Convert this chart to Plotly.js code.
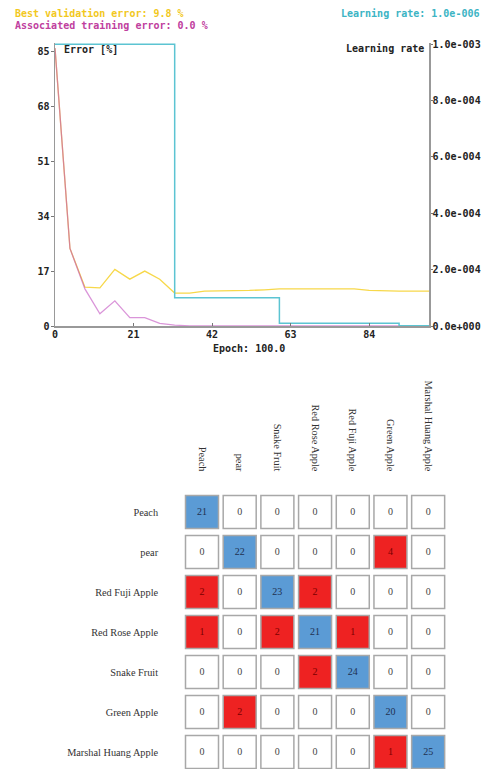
<!DOCTYPE html>
<html>
<head>
<meta charset="utf-8">
<script src="https://cdn.plot.ly/plotly-3.0.1.min.js"></script>
<style>html,body{margin:0;padding:0;background:#fff;}</style>
</head>
<body>
<div id="chart" style="width:485px;height:769px;"></div>
<script>
// ---- Training curves ----
const epochs = [0,4,8,12,16,20,24,28,32,36,40,44,48,52,56,60,64,68,72,76,80,84,88,92,96,100];
const validationError = [86,24,12,11.8,17.5,14.5,17,14.5,10.2,10.2,10.8,10.8,11,11,11.2,11.5,11.5,11.5,11.5,11.5,11.5,11,10.8,10.8,10.8,10.8];
const trainingError = [86,24,11.5,3.8,7.8,2.6,2.6,0.8,0.3,0,0,0,0,0,0,0,0,0,0,0,0,0,0,0,0,0];
const lrEpochs = [0,32,60,92,100];
const learningRate = [1e-3,1e-4,1e-5,1e-6,1e-6];
const errorTicks = [0,17,34,51,68,85];
const epochTicks = [0,21,42,63,84];
const lrTicks = [0,2e-4,4e-4,6e-4,8e-4,1e-3];
const lrTickText = ['0.0e+000','2.0e-004','4.0e-004','6.0e-004','8.0e-004','1.0e-003'];

// ---- Confusion matrix ----
const rowLabels = ['Peach','pear','Red Fuji Apple','Red Rose Apple','Snake Fruit','Green Apple','Marshal Huang Apple'];
const colLabels = ['Peach','pear','Snake Fruit','Red Rose Apple','Red Fuji Apple','Green Apple','Marshal Huang Apple'];
const matrix = [
  [21,0,0,0,0,0,0],
  [0,22,0,0,0,4,0],
  [2,0,23,2,0,0,0],
  [1,0,2,21,1,0,0],
  [0,0,0,2,24,0,0],
  [0,2,0,0,0,20,0],
  [0,0,0,0,0,1,25]
];

const mono = {family:'DejaVu Sans Mono', size:10, weight:'bold', color:'#222'};
const serif = {family:'Liberation Serif', size:10.3, color:'#333'};

const cx=[], cy=[], ct=[], cc=[], tc=[];
matrix.forEach((row,i)=>row.forEach((v,j)=>{
  cx.push(j); cy.push(i); ct.push(String(v));
  if (i===j) { cc.push('#5b9bd5'); tc.push('#1f3050'); }
  else if (v>0) { cc.push('#ee2222'); tc.push('#7a0000'); }
  else { cc.push('#ffffff'); tc.push('#444'); }
}));

const H = 769, W = 485;
const traces = [
  {x:lrEpochs, y:learningRate, type:'scatter', mode:'lines', line:{color:'#5cc4d2', width:1.5, shape:'hv'}, xaxis:'x', yaxis:'y3', hoverinfo:'skip'},
  {x:epochs, y:validationError, type:'scatter', mode:'lines', line:{color:'#f7d84a', width:1.3}, xaxis:'x', yaxis:'y'},
  {x:epochs, y:trainingError, type:'scatter', mode:'lines', line:{color:'#c24fc0', width:1.3}, opacity:0.6, xaxis:'x', yaxis:'y'},
  {x:cx, y:cy, text:ct, type:'scatter', mode:'markers+text', xaxis:'x2', yaxis:'y2',
   marker:{symbol:'square', size:33, color:cc, line:{color:'#a8a8a8', width:1.5}},
   textposition:'middle center', textfont:{family:'Liberation Serif', size:10, color:tc}, cliponaxis:false}
];

const layout = {
  width:W, height:H, margin:{l:0,r:0,t:0,b:0}, showlegend:false,
  paper_bgcolor:'#fff', plot_bgcolor:'#fff',
  xaxis:{domain:[55/W,429/W], range:[0,100], tickvals:epochTicks, ticks:'inside', ticklen:3, tickcolor:'#777',
         showline:true, linecolor:'#999', linewidth:1.5, showgrid:false, zeroline:false, tickfont:mono, anchor:'y',
         ticklabelstandoff:-2},
  yaxis:{domain:[(H-326)/H,(H-43)/H], range:[0,87.6], tickvals:errorTicks, ticks:'outside', ticklen:3, tickcolor:'#777',
         showline:true, linecolor:'#999', linewidth:1.5, showgrid:false, zeroline:false, tickfont:mono, anchor:'x',
         ticklabelstandoff:-1},
  yaxis3:{overlaying:'y', side:'right', anchor:'x', range:[0,1.004e-3], tickvals:lrTicks, ticktext:lrTickText,
          ticks:'outside', ticklen:2, tickcolor:'#777', showline:true, linecolor:'#999', linewidth:1.5,
          showgrid:false, zeroline:false, tickfont:mono, ticklabelstandoff:-2},
  xaxis2:{domain:[183.15/W,447/W], range:[-0.5,6.5], side:'top', anchor:'y2', tickvals:[0,1,2,3,4,5,6], ticktext:colLabels,
          tickangle:90, ticks:'outside', ticklen:16, tickcolor:'rgba(0,0,0,0)', showline:false, showgrid:false, zeroline:false, tickfont:serif},
  yaxis2:{domain:[0,(H-492)/H], range:[6.425,-0.5], anchor:'x2', tickvals:[0,1,2,3,4,5,6], ticktext:rowLabels,
          ticks:'outside', ticklen:22, tickcolor:'rgba(0,0,0,0)', showline:false, showgrid:false, zeroline:false, tickfont:serif},
  annotations:[
    {xref:'paper', yref:'paper', x:13/W, y:1-13/H, xanchor:'left', yanchor:'middle', showarrow:false,
     text:'Best validation error: 9.8 %', font:{family:'DejaVu Sans Mono', size:10, weight:'bold', color:'#f2c81e'}},
    {xref:'paper', yref:'paper', x:13/W, y:1-26/H, xanchor:'left', yanchor:'middle', showarrow:false,
     text:'Associated training error: 0.0 %', font:{family:'DejaVu Sans Mono', size:10, weight:'bold', color:'#c0409e'}},
    {xref:'paper', yref:'paper', x:481/W, y:1-13/H, xanchor:'right', yanchor:'middle', showarrow:false,
     text:'Learning rate: 1.0e-006', font:{family:'DejaVu Sans Mono', size:10, weight:'bold', color:'#3cb4c4'}},
    {xref:'paper', yref:'paper', x:62/W, y:1-49/H, xanchor:'left', yanchor:'middle', showarrow:false,
     text:'Error [%]', font:mono},
    {xref:'paper', yref:'paper', x:426/W, y:1-48/H, xanchor:'right', yanchor:'middle', showarrow:false,
     text:'Learning rate', font:mono},
    {xref:'paper', yref:'paper', x:249/W, y:1-348/H, xanchor:'center', yanchor:'middle', showarrow:false,
     text:'Epoch: 100.0', font:mono}
  ]
};

Plotly.newPlot('chart', traces, layout, {displayModeBar:false, staticPlot:true});
</script>
</body>
</html>
